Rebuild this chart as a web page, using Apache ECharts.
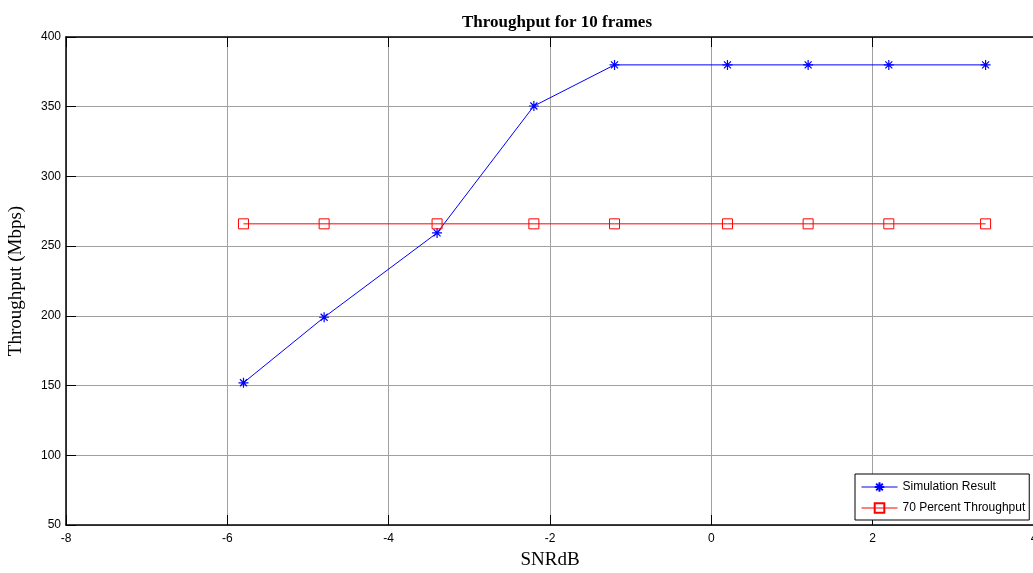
<!DOCTYPE html>
<html>
<head>
<meta charset="utf-8">
<script src="https://cdn.jsdelivr.net/npm/echarts@6/dist/echarts.min.js"></script>
<style>html,body{margin:0;padding:0;background:#fff;overflow:hidden;}#c{width:1033px;height:573px;}</style>
</head>
<body>
<div id="c"></div>
<script>
const snr = [-5.8, -4.8, -3.4, -2.2, -1.2, 0.2, 1.2, 2.2, 3.4];
const simulation = [152, 199, 259.5, 350.5, 380, 380, 380, 380, 380];
const percent70 = [266, 266, 266, 266, 266, 266, 266, 266, 266];
const xTicks = [-8, -6, -4, -2, 0, 2, 4];
const yTicks = [50, 100, 150, 200, 250, 300, 350, 400];

const chart = echarts.init(document.getElementById('c'), null, {renderer: 'canvas'});
const star = 'path://M0,-10L0,10M-10,0L10,0M-7,-7L7,7M-7,7L7,-7';
const tickFont = {fontFamily: 'Liberation Sans, Arial', fontSize: 12, color: '#000'};
chart.setOption({
  animation: false,
  backgroundColor: '#fff',
  title: {
    text: 'Throughput for 10 frames',
    left: 552, top: 9, textAlign: 'center',
    textStyle: {fontFamily: 'Liberation Serif, Times New Roman', fontWeight: 'bold', fontSize: 17, color: '#000'}
  },
  grid: {left: 66, top: 37, width: 968, height: 488, containLabel: false, outerBoundsMode: 'none'},
  xAxis: [{
    type: 'value', min: xTicks[0], max: xTicks[xTicks.length - 1], interval: 2,
    name: 'SNRdB', nameLocation: 'middle', nameGap: 26,
    nameTextStyle: {fontFamily: 'Liberation Serif, Times New Roman', fontSize: 19, color: '#000'},
    axisLine: {show: true, lineStyle: {color: '#000', width: 1.5}},
    axisTick: {show: true, inside: true, length: 10, lineStyle: {color: '#000'}},
    axisLabel: Object.assign({margin: 8}, tickFont),
    splitLine: {show: true, lineStyle: {color: '#a0a0a0', width: 1}}
  }, {
    type: 'value', position: 'top', min: xTicks[0], max: xTicks[xTicks.length - 1], interval: 2,
    axisLine: {show: true, onZero: false, lineStyle: {color: '#000', width: 1.5}},
    axisTick: {show: true, inside: true, length: 10, lineStyle: {color: '#000'}},
    axisLabel: {show: false}, splitLine: {show: false}
  }],
  yAxis: [{
    type: 'value', min: yTicks[0], max: yTicks[yTicks.length - 1], interval: 50,
    name: 'Throughput (Mbps)', nameLocation: 'middle', nameGap: 40,
    nameTextStyle: {fontFamily: 'Liberation Serif, Times New Roman', fontSize: 19, color: '#000'},
    axisLine: {show: true, onZero: false, lineStyle: {color: '#000', width: 1.5}},
    axisTick: {show: true, inside: true, length: 10, lineStyle: {color: '#000'}},
    axisLabel: Object.assign({margin: 5}, tickFont),
    splitLine: {show: true, lineStyle: {color: '#a0a0a0', width: 1}}
  }],
  legend: {
    orient: 'vertical', left: 855, top: 474,
    backgroundColor: '#fff', borderColor: '#000', borderWidth: 1,
    padding: [7, 4, 6, 6], itemGap: 9, itemWidth: 36, itemHeight: 12,
    lineStyle: {width: 1},
    textStyle: {fontFamily: 'Liberation Sans, Arial', fontSize: 12, color: '#000'},
    data: ['Simulation Result', '70 Percent Throughput']
  },
  series: [{
    name: 'Simulation Result', type: 'line',
    data: snr.map((x, i) => [x, simulation[i]]),
    symbol: star, symbolSize: 10,
    lineStyle: {color: '#0000ff', width: 1},
    itemStyle: {color: '#0000ff', borderColor: '#0000ff', borderWidth: 1.2}
  }, {
    name: '70 Percent Throughput', type: 'line',
    data: snr.map((x, i) => [x, percent70[i]]),
    symbol: 'rect', symbolSize: 10,
    lineStyle: {color: '#ff0000', width: 1},
    itemStyle: {color: 'rgba(255,255,255,0)', borderColor: '#ff0000', borderWidth: 1}
  }]
});
</script>
</body>
</html>
